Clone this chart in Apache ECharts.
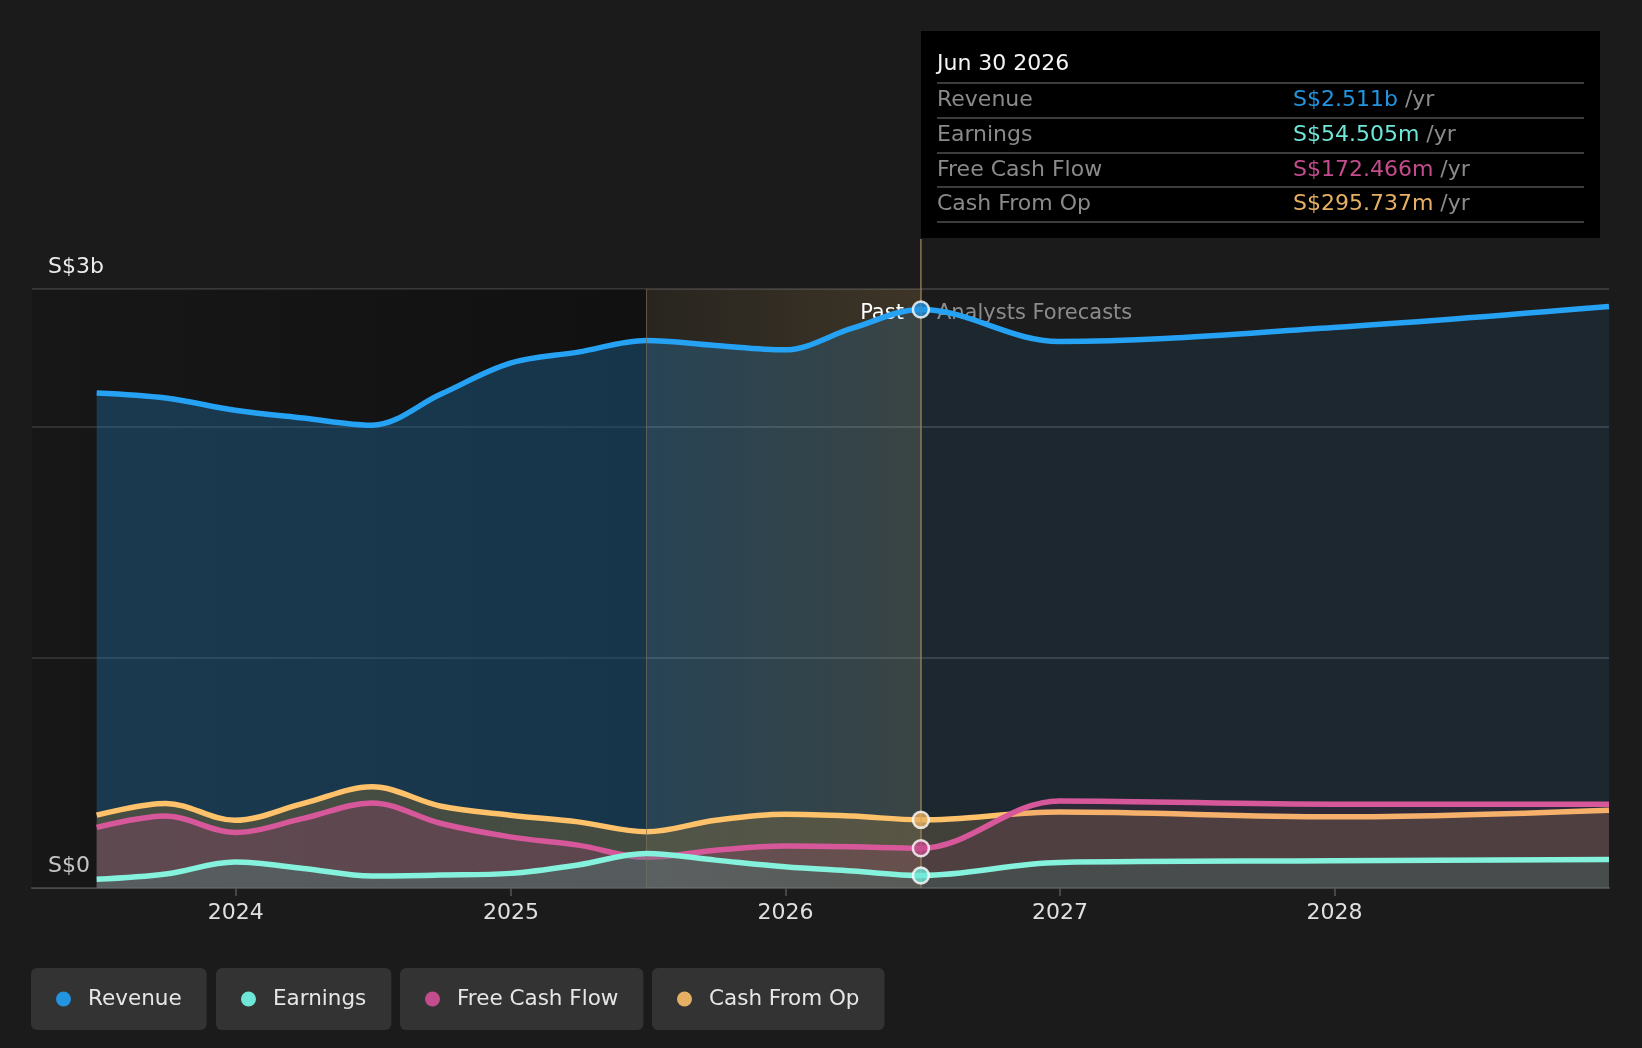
<!DOCTYPE html>
<html>
<head>
<meta charset="utf-8">
<title>Revenue, earnings and cash flow</title>
<script src="https://cdn.jsdelivr.net/npm/echarts@6/dist/echarts.min.js"></script>
<style>
  html, body { margin: 0; padding: 0; background: #1b1b1b; }
  #chart { width: 1642px; height: 1048px; }
</style>
</head>
<body>
<div id="chart"></div>
<script>
// values in S$ billions, quarterly history then yearly forecasts
const dates = ['2023-06-30', '2023-09-30', '2023-12-31', '2024-03-31', '2024-06-30', '2024-09-30',
  '2024-12-31', '2025-03-31', '2025-06-30', '2025-09-30', '2025-12-31', '2026-03-31', '2026-06-30',
  '2026-12-31', '2027-12-31', '2028-12-31'];
const revenue = [2.149, 2.127, 2.074, 2.040, 2.009, 2.144, 2.278, 2.326, 2.377, 2.355, 2.336, 2.430,
  2.511, 2.372, 2.433, 2.524];
const earnings = [0.0375, 0.0606, 0.1126, 0.085, 0.052, 0.056, 0.0635, 0.100, 0.150, 0.121, 0.092,
  0.0736, 0.054505, 0.111, 0.118, 0.124];
const freeCashFlow = [0.263, 0.312, 0.241, 0.302, 0.369, 0.280, 0.222, 0.186, 0.133, 0.164, 0.182,
  0.179, 0.172466, 0.378, 0.364, 0.364];
const cashFromOp = [0.316, 0.367, 0.294, 0.367, 0.439, 0.355, 0.316, 0.287, 0.244, 0.294, 0.320,
  0.312, 0.295737, 0.330, 0.309, 0.338];

const seriesNames = ['Revenue', 'Earnings', 'Free Cash Flow', 'Cash From Op'];
const seriesColors = ['#2394df', '#78dcc8', '#c4508c', '#e8b060'];
const legendColors = ['#2394df', '#6ee6d8', '#c34c8c', '#e6b064'];
const yTickLabels = { 0: 'S$0', 2.6: 'S$3b' };

const xMin = '2023-04-05';
const xMax = '2028-12-31';
const bandStart = 8;   // Jun 30 2025
const nowIndex = 12;   // Jun 30 2026

const FONT = 'DejaVu Sans';
const chart = echarts.init(document.getElementById('chart'));

function pairs(values) {
  return dates.map((d, i) => [d, values[i]]);
}

// fraction of the series' x extent, used for the area gradients
const t0 = Date.parse(dates[0]);
const t1 = Date.parse(dates[dates.length - 1]);
const fracBand = (Date.parse(dates[bandStart]) - t0) / (t1 - t0);
const fracNow = (Date.parse(dates[nowIndex]) - t0) / (t1 - t0);

// past colour until the band, blend across it, forecast colour after "now"
function hGradient(past, band, future) {
  return new echarts.graphic.LinearGradient(0, 0, 1, 0, [
    { offset: 0, color: past },
    { offset: fracBand, color: past },
    { offset: fracNow, color: band },
    { offset: Math.min(1, fracNow + 0.001), color: future },
    { offset: 1, color: future }
  ]);
}

function fmtMoney(v) {
  if (v >= 1) return 'S$' + v.toFixed(3) + 'b';
  return 'S$' + (v * 1000).toFixed(3) + 'm';
}

function fmtDate(s) {
  const months = ['Jan', 'Feb', 'Mar', 'Apr', 'May', 'Jun', 'Jul', 'Aug', 'Sep', 'Oct', 'Nov', 'Dec'];
  const p = s.split('-');
  return months[parseInt(p[1], 10) - 1] + ' ' + parseInt(p[2], 10) + ' ' + p[0];
}

function lineSeries(name, values, color, area, z) {
  return {
    name: name,
    type: 'line',
    data: pairs(values),
    smooth: 0.35,
    symbol: 'none',
    z: z,
    color: color,
    itemStyle: { color: color },
    lineStyle: { color: color, width: 5.5 },
    areaStyle: { color: area, opacity: 1 }
  };
}

const allValues = [revenue, earnings, freeCashFlow, cashFromOp];

const option = {
  animation: false,
  backgroundColor: '#1b1b1b',
  textStyle: { fontFamily: FONT },
  grid: { left: 32, right: 33, top: 289, bottom: 160 },
  xAxis: {
    type: 'time',
    min: xMin,
    max: xMax,
    splitNumber: 6,
    axisLine: { lineStyle: { color: '#4a4a4a', width: 2 } },
    axisTick: { show: true, length: 8, lineStyle: { color: '#555', width: 1.5 } },
    splitLine: { show: false },
    axisLabel: {
      color: '#e0e0e0',
      fontSize: 22,
      fontFamily: FONT,
      margin: 14,
      showMinLabel: false,
      showMaxLabel: false,
      formatter: function (val) {
        const d = new Date(val);
        return (d.getMonth() === 0 && d.getDate() === 1) ? String(d.getFullYear()) : '';
      }
    }
  },
  yAxis: {
    type: 'value',
    min: 0,
    max: 2.6,
    interval: 1,
    axisLine: { show: false },
    axisTick: { show: false },
    splitLine: { lineStyle: { color: '#444', width: 1.5 } },
    axisLabel: {
      inside: true,
      margin: 16,
      verticalAlign: 'bottom',
      padding: [0, 0, 11, 0],
      color: '#ececec',
      fontSize: 22,
      fontFamily: FONT,
      formatter: function (v) {
        const key = Math.round(v * 10) / 10;
        return yTickLabels[key] || '';
      }
    }
  },
  legend: seriesNames.map((name, i) => ({
    data: [name],
    left: [31, 216, 400, 652][i],
    top: 968,
    backgroundColor: '#333333',
    borderRadius: 6,
    padding: [19, 25, 19, 25],
    icon: 'circle',
    itemWidth: 15,
    itemHeight: 15,
    itemStyle: { color: legendColors[i] },
    selectedMode: false,
    textStyle: { color: '#e6e6e6', fontSize: 21.5, fontFamily: FONT, lineHeight: 24, padding: [0, 0, 0, 12] }
  })),
  tooltip: {
    trigger: 'axis',
    triggerOn: 'none',
    alwaysShowContent: true,
    axisPointer: { type: 'none' },
    position: [921, 31],
    padding: 0,
    backgroundColor: '#000',
    borderWidth: 0,
    transitionDuration: 0,
    extraCssText: 'box-shadow:none;border-radius:0;',
    formatter: function (params) {
      const idx = params[0].dataIndex;
      const sep = 'border-top:2px solid #3c3c3c;';
      let html = '<div style="width:647px;padding:14px 16px 15px 16px;font-family:\'DejaVu Sans\';font-size:22px;">';
      html += '<div style="color:#f4f4f4;height:37px;line-height:36px;">' + fmtDate(dates[idx]) + '</div>';
      seriesNames.forEach((name, i) => {
        html += '<div style="display:flex;' + sep + 'height:32.75px;line-height:30px;">' +
          '<span style="width:356px;color:#8a8a8a;">' + name + '</span>' +
          '<span style="color:' + legendColors[i] + ';">' + fmtMoney(allValues[i][idx]) + '</span>' +
          '<span style="color:#8a8a8a;">&nbsp;/yr</span></div>';
      });
      html += '<div style="' + sep + '"></div></div>';
      return html;
    }
  },
  series: [
    {
      // darker wash over the older history
      name: 'history',
      type: 'line',
      data: [],
      z: 1,
      silent: true,
      tooltip: { show: false },
      markArea: {
        silent: true,
        data: [[
          { xAxis: xMin, itemStyle: { color: new echarts.graphic.LinearGradient(0, 0, 1, 0, [
            { offset: 0, color: 'rgba(0,0,0,0.15)' },
            { offset: 1, color: 'rgba(0,0,0,0.38)' }
          ]) } },
          { xAxis: dates[bandStart] }
        ]]
      }
    },
    lineSeries('Revenue', revenue, seriesColors[0],
      hGradient('rgba(35,148,223,0.25)', 'rgba(35,148,223,0.14)', 'rgba(35,148,223,0.09)'), 2),
    lineSeries('Cash From Op', cashFromOp, seriesColors[3],
      hGradient('rgba(150,110,40,0.32)', 'rgba(142,110,60,0.31)', 'rgba(137,110,72,0.3)'), 3),
    lineSeries('Free Cash Flow', freeCashFlow, seriesColors[2],
      hGradient('rgba(160,50,110,0.23)', 'rgba(160,50,110,0.16)', 'rgba(160,50,110,0.12)'), 4),
    lineSeries('Earnings', earnings, seriesColors[1],
      hGradient('rgba(66,117,110,0.36)', 'rgba(58,100,96,0.36)', 'rgba(53,91,88,0.36)'), 5),
    {
      // last twelve months band, past / forecast split
      name: 'band',
      type: 'line',
      data: [],
      z: 8,
      silent: true,
      tooltip: { show: false },
      markArea: {
        silent: true,
        data: [
          [
            {
              xAxis: dates[bandStart],
              itemStyle: { color: new echarts.graphic.LinearGradient(0, 0, 1, 0, [
                { offset: 0, color: 'rgba(210,165,90,0.07)' },
                { offset: 1, color: 'rgba(210,165,90,0.19)' }
              ]) },
              label: { show: true, position: 'insideTopRight', formatter: 'Past', color: '#ffffff',
                fontSize: 21, fontFamily: FONT, offset: [-12, 9] }
            },
            { xAxis: dates[nowIndex] }
          ],
          [
            {
              xAxis: dates[nowIndex],
              itemStyle: { color: 'rgba(0,0,0,0)' },
              label: { show: true, position: 'insideTopLeft', formatter: 'Analysts Forecasts', color: '#8c8c8c',
                fontSize: 21, fontFamily: FONT, offset: [11, 9] }
            },
            { xAxis: xMax }
          ]
        ]
      },
      markLine: {
        silent: true,
        symbol: ['none', 'none'],
        label: { show: false },
        data: [
          { xAxis: dates[bandStart], lineStyle: { color: 'rgba(120,108,85,0.7)', width: 1, type: 'solid' } },
          { xAxis: dates[nowIndex], lineStyle: { color: 'rgba(160,132,88,0.85)', width: 1.5, type: 'solid' } }
        ]
      }
    },
    {
      name: 'current',
      type: 'scatter',
      z: 10,
      silent: true,
      tooltip: { show: false },
      symbolSize: 16,
      data: allValues.map((vals, i) => ({
        value: [dates[nowIndex], vals[nowIndex]],
        itemStyle: { color: legendColors[i], borderColor: '#ffffff', borderWidth: 2.5 }
      }))
    }
  ]
};

chart.setOption(option);

// stub of the marker line between the tooltip box and the plot
const px = chart.convertToPixel({ gridIndex: 0 }, [dates[nowIndex], 2.6]);
chart.setOption({
  graphic: [{
    type: 'line',
    silent: true,
    z: 20,
    shape: { x1: px[0], y1: 239, x2: px[0], y2: px[1] },
    style: { stroke: 'rgba(160,132,88,0.85)', lineWidth: 1.5 }
  }]
});

chart.dispatchAction({ type: 'showTip', seriesIndex: 1, dataIndex: nowIndex });
</script>
</body>
</html>
